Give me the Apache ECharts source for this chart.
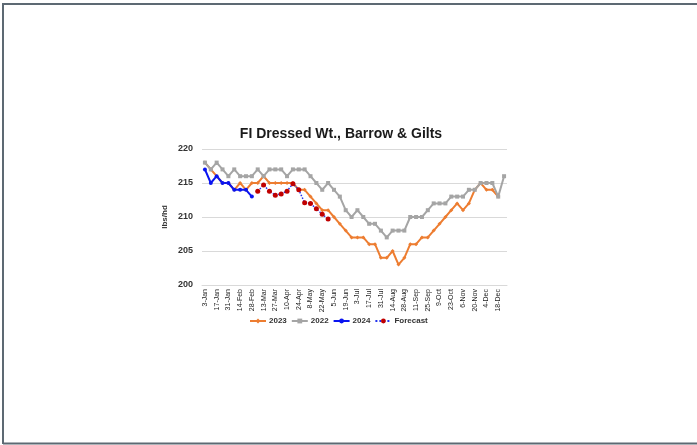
<!DOCTYPE html>
<html>
<head>
<meta charset="utf-8">
<script src="https://cdn.jsdelivr.net/npm/echarts@6/dist/echarts.min.js"></script>
<style>
html,body{margin:0;padding:0;background:#fff;overflow:hidden;width:697px;height:445px;}
#chart{position:absolute;left:0;top:0;width:697px;height:445px;}
</style>
</head>
<body>
<div id="chart"></div>
<script>
const categories = ['3-Jan','10-Jan','17-Jan','24-Jan','31-Jan','7-Feb','14-Feb','21-Feb','28-Feb','6-Mar','13-Mar','20-Mar','27-Mar','3-Apr','10-Apr','17-Apr','24-Apr','1-May','8-May','15-May','22-May','29-May','5-Jun','12-Jun','19-Jun','26-Jun','3-Jul','10-Jul','17-Jul','24-Jul','31-Jul','7-Aug','14-Aug','21-Aug','28-Aug','4-Sep','11-Sep','18-Sep','25-Sep','2-Oct','9-Oct','16-Oct','23-Oct','30-Oct','6-Nov','13-Nov','20-Nov','27-Nov','4-Dec','11-Dec','18-Dec','25-Dec'];
const s2023 = [218,217,216,215,215,214,215,214,215,215,216,215,215,215,215,215,214,214,213,212,211,211,210,209,208,207,207,207,206,206,204,204,205,203,204,206,206,207,207,208,209,210,211,212,211,212,214,215,214,214,213];
const s2022 = [218,217,218,217,216,217,216,216,216,217,216,217,217,217,216,217,217,217,216,215,214,215,214,213,211,210,211,210,209,209,208,207,208,208,208,210,210,210,211,212,212,212,213,213,213,214,214,215,215,215,213,216];
const s2024 = [217,215,216,215,215,214,214,214,213];
const forecast = [null,null,null,null,null,null,null,null,null,213.8,214.7,213.8,213.2,213.4,213.8,214.9,214.0,212.1,212.0,211.2,210.4,209.7];
const yTicks = {min:200, max:220, interval:5};

const chart = echarts.init(document.getElementById('chart'), null, {renderer:'canvas'});
const fontFam = '"Liberation Sans", Arial, sans-serif';
const frameStyle = {stroke:'#5d6973', lineWidth:2};
chart.setOption({
  animation:false,
  graphic:[
    {type:'line', shape:{x1:3, y1:4, x2:697, y2:4}, style:frameStyle, silent:true},
    {type:'line', shape:{x1:3, y1:3, x2:3, y2:444}, style:frameStyle, silent:true},
    {type:'line', shape:{x1:3, y1:443.5, x2:697, y2:443.5}, style:frameStyle, silent:true}
  ],
  title:{text:'FI Dressed Wt., Barrow & Gilts', left:336, top:122, textAlign:'center',
    textStyle:{fontFamily:fontFam, fontSize:14, fontWeight:'bold', color:'#1a1a1a'}},
  grid:{left:202, right:190, top:149, bottom:160, containLabel:false},
  legend:{top:312, left:244, itemGap:4, itemWidth:16, itemHeight:6,
    data:['2023','2022','2024','Forecast'],
    textStyle:{fontFamily:fontFam, fontSize:8, fontWeight:'bold', color:'#333', padding:[0,0,0,-2]}},
  xAxis:{type:'category', data:categories, boundaryGap:true,
    axisLine:{lineStyle:{color:'#d9d9d9'}}, axisTick:{show:false},
    axisLabel:{interval:1, rotate:90, fontFamily:fontFam, fontSize:7, color:'#222', margin:4}},
  yAxis:{type:'value', min:yTicks.min, max:yTicks.max, interval:yTicks.interval,
    name:'lbs/hd', nameLocation:'middle', nameGap:33, nameRotate:90,
    nameTextStyle:{fontFamily:fontFam, fontSize:8, fontWeight:'bold', color:'#333'},
    axisLine:{show:false}, axisTick:{show:false},
    axisLabel:{fontFamily:fontFam, fontSize:9, fontWeight:'bold', color:'#333', margin:9},
    splitLine:{lineStyle:{color:'#d9d9d9', width:1}}},
  series:[
    {name:'2023', type:'line', data:s2023, symbol:'diamond', symbolSize:4, showAllSymbol:true,
      lineStyle:{color:'#ED7D31', width:2}, itemStyle:{color:'#ED7D31'}},
    {name:'2022', type:'line', data:s2022, symbol:'rect', symbolSize:4, showAllSymbol:true,
      lineStyle:{color:'#A5A5A5', width:2}, itemStyle:{color:'#A5A5A5'}},
    {name:'2024', type:'line', data:s2024, symbol:'circle', symbolSize:4, showAllSymbol:true,
      lineStyle:{color:'#0a14f0', width:2}, itemStyle:{color:'#0a14f0'}},
    {name:'Forecast', type:'line', data:forecast, symbol:'circle', symbolSize:5, showAllSymbol:true,
      lineStyle:{color:'#2233ee', width:1.5, type:'dotted'}, itemStyle:{color:'#C00000'}}
  ]
});
</script>
</body>
</html>
